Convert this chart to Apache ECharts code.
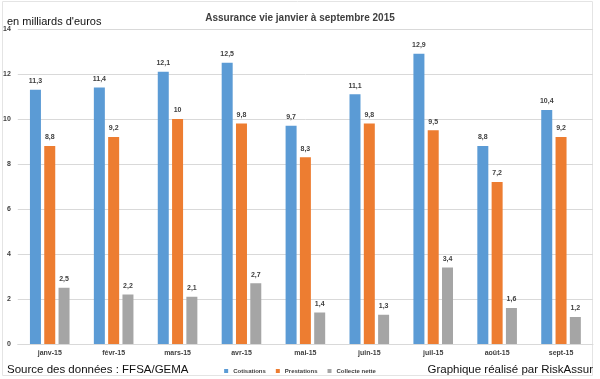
<!DOCTYPE html>
<html><head><meta charset="utf-8">
<script src="https://cdn.jsdelivr.net/npm/echarts@6/dist/echarts.min.js"></script>
<style>html,body{margin:0;padding:0;background:#fff}#c{width:600px;height:379px}</style>
</head><body><div id="c"></div>
<script>
const categories = ['janv-15','févr-15','mars-15','avr-15','mai-15','juin-15','juil-15','août-15','sept-15'];
const cotisations = [11.3, 11.4, 12.1, 12.5, 9.7, 11.1, 12.9, 8.8, 10.4];
const prestations = [8.8, 9.2, 10, 9.8, 8.3, 9.8, 9.5, 7.2, 9.2];
const collecte = [2.5, 2.2, 2.1, 2.7, 1.4, 1.3, 3.4, 1.6, 1.2];
const seriesNames = ['Cotisations','Prestations','Collecte nette'];
const colors = ['#5B9BD5','#ED7D31','#A5A5A5'];

const chart = echarts.init(document.getElementById('c'));
const lbl = {show:true, position:'top', distance:5, fontSize:7, fontWeight:'bold', color:'#404040', fontFamily:'Liberation Sans',
  formatter: p => String(p.value).replace('.', ',')};
chart.setOption({
  animation:false,
  graphic:[
    {type:'rect', shape:{x:2.5,y:1.5,width:590,height:374}, style:{fill:'none', stroke:'#E4E4E4', lineWidth:1}},
    {type:'text', left:7, top:16, style:{text:"en milliards d'euros", fontSize:11, fontFamily:'Liberation Sans', fill:'#111'}},
    {type:'text', left:7, top:364, style:{text:'Source des données : FFSA/GEMA', fontSize:11.5, fontFamily:'Liberation Sans', fill:'#111'}},
    {type:'text', right:7, top:364, style:{text:'Graphique réalisé par RiskAssur', fontSize:11.5, fontFamily:'Liberation Sans', fill:'#111'}}
  ],
  title:{text:'Assurance vie janvier à septembre 2015', left:'center', top:8,
    textStyle:{fontSize:10, fontWeight:'bold', color:'#404040', fontFamily:'Liberation Sans'}},
  legend:{top:363, left:'center', itemWidth:4, itemHeight:4, itemGap:10, icon:'rect',
    textStyle:{fontSize:6, fontWeight:'bold', color:'#404040', fontFamily:'Liberation Sans'},
    data:seriesNames},
  grid:{left:17, right:7, top:29, bottom:35, containLabel:false},
  xAxis:{type:'category', data:categories,
    axisLine:{lineStyle:{color:'#D9D9D9'}}, axisTick:{show:false},
    axisLabel:{fontSize:7, fontWeight:'bold', color:'#404040', margin:6, fontFamily:'Liberation Sans'}},
  yAxis:{type:'value', min:0, max:14, interval:2,
    axisLine:{show:false}, axisTick:{show:false},
    splitLine:{lineStyle:{color:'#D9D9D9'}},
    axisLabel:{fontSize:7, fontWeight:'bold', color:'#404040', margin:7, fontFamily:'Liberation Sans'}},
  series:[
    {name:seriesNames[0], type:'bar', data:cotisations, barWidth:11, barGap:'30%', itemStyle:{color:colors[0]}, label:lbl},
    {name:seriesNames[1], type:'bar', data:prestations, barWidth:11, barGap:'30%', itemStyle:{color:colors[1]}, label:lbl},
    {name:seriesNames[2], type:'bar', data:collecte, barWidth:11, barGap:'30%', itemStyle:{color:colors[2]}, label:lbl}
  ]
});
</script></body></html>
